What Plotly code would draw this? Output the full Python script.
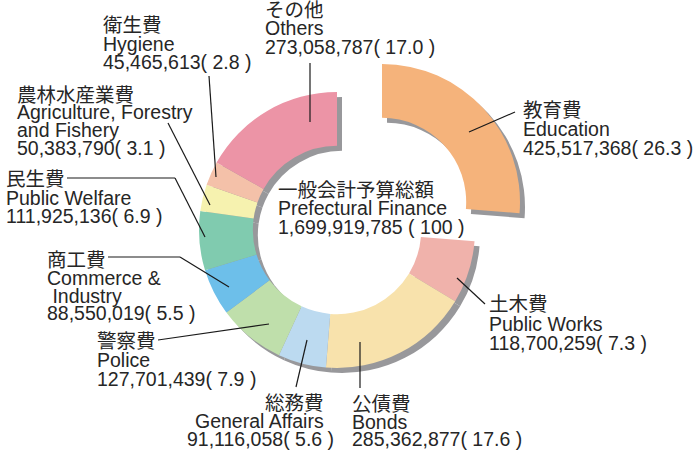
import plotly.graph_objects as go

# ---- data ----
labels_ja = ["教育費", "土木費", "公債費", "総務費", "警察費", "商工費", "民生費", "農林水産業費", "衛生費", "その他"]
labels_en = ["Education", "Public Works", "Bonds", "General Affairs", "Police",
             "Commerce &|\u00a0Industry", "Public Welfare", "Agriculture, Forestry|and Fishery",
             "Hygiene", "Others"]
amounts = [425517368, 118700259, 285362877, 91116058, 127701439,
           88550019, 111925136, 50383790, 45465613, 273058787]
shares = [26.3, 7.3, 17.6, 5.6, 7.9, 5.5, 6.9, 3.1, 2.8, 17.0]
total_ja = "一般会計予算総額"
total_en = "Prefectural Finance"
total_amount = 1699919785
total_share = 100

colors = ["#F5B37B", "#F0B2AB", "#F8E2AC", "#BCDAF0", "#BFDFAB",
          "#6DBFEA", "#80CBAF", "#F6F2AF", "#F4C1A9", "#EC94A6"]
SHADOW = "#98989B"
TXT = "#262626"
FONT = "Liberation Sans, Arial, Noto Sans CJK JP"

W, H = 699, 454
CX, CY, R = 337, 230, 138
HOLE = 0.61
PULL_DX, PULL_DY = 45, -28
SH = 5


def dom(cx, cy, r):
    return dict(x=[(cx - r) / W, (cx + r) / W], y=[1 - (cy + r) / H, 1 - (cy - r) / H])


fig = go.Figure()

# main ring (education transparent) + shadow
main_cols = ["rgba(0,0,0,0)"] + colors[1:]
sh_cols = ["rgba(0,0,0,0)"] + [SHADOW] * (len(amounts) - 1)
edu_rest = [amounts[0], sum(amounts[1:])]

common = dict(sort=False, direction="clockwise", rotation=0, hole=HOLE,
              textinfo="none", hoverinfo="skip", showlegend=False)

fig.add_trace(go.Pie(values=amounts, marker=dict(colors=sh_cols, line=dict(width=0)),
                     domain=dom(CX + SH, CY + SH, R), **common))
fig.add_trace(go.Pie(values=edu_rest, marker=dict(colors=[SHADOW, "rgba(0,0,0,0)"], line=dict(width=0)),
                     domain=dom(CX + PULL_DX + SH, CY + PULL_DY + SH, R), **common))
fig.add_trace(go.Pie(values=amounts, marker=dict(colors=main_cols, line=dict(width=0)),
                     domain=dom(CX, CY, R), **common))
fig.add_trace(go.Pie(values=edu_rest, marker=dict(colors=[colors[0], "rgba(0,0,0,0)"], line=dict(width=0)),
                     domain=dom(CX + PULL_DX, CY + PULL_DY, R), **common))

# ---- label layout (pixel positions) ----
# (x, first y, step, anchor)
label_pos = [
    (523, 110, 19, "left"),
    (489, 304, 19.5, "left"),
    (352, 404, 17.5, "left"),
    None,  # general affairs (special)
    (97, 341, 19, "left"),
    (47, 260, 17.8, "left"),
    (6, 179, 18.5, "left"),
    (17, 95, 17.5, "left"),
    (103, 25, 18.5, "left"),
    (265, 10, 18.5, "left"),
]

leaders = [
    [(469, 132), (515, 112)],
    [(457, 278), (485, 304)],
    [(360, 342), (360, 388)],
    [(307, 340), (296, 387)],
    [(269, 324), (158, 340)],
    [(229, 287), (180, 257), (108, 257)],
    [(205, 237), (175, 178), (67, 178)],
    [(210, 205), (168, 123)],
    [(216, 177), (209, 76)],
    [(310, 122), (310, 63)],
]

annots = []


def add_text(text, x, y, anchor="left"):
    annots.append(dict(text=text, x=x / W, y=1 - y / H, xref="paper", yref="paper",
                       xanchor=anchor, yanchor="middle", showarrow=False,
                       font=dict(family=FONT, size=19.5, color=TXT), borderpad=0))


for i in range(len(amounts)):
    num = f"{amounts[i]:,}( {shares[i]} )"
    lines = [labels_ja[i]] + labels_en[i].split("|") + [num]
    if label_pos[i] is None:
        add_text(lines[0], 325, 403, "right")
        add_text(lines[1], 325, 421, "right")
        add_text(lines[2], 186, 439, "left")
        continue
    x, y0, step, anc = label_pos[i]
    for k, t in enumerate(lines):
        add_text(t, x - 1, y0 + k * step, anc)

for k, t in enumerate([total_ja, total_en, f"{total_amount:,} ( {total_share} )"]):
    add_text(t, 277, 190 + k * 18.5)

shapes = []
for pts in leaders:
    for a, b in zip(pts[:-1], pts[1:]):
        shapes.append(dict(type="line", xref="paper", yref="paper",
                           x0=a[0] / W, y0=1 - a[1] / H, x1=b[0] / W, y1=1 - b[1] / H,
                           line=dict(color="#1a1a1a", width=1.2)))

fig.update_layout(width=W, height=H, margin=dict(l=0, r=0, t=0, b=0),
                  paper_bgcolor="white", plot_bgcolor="white",
                  annotations=annots, shapes=shapes)

fig.write_html("out.html", config={"displayModeBar": False},
               post_script="document.body.style.margin='0';document.body.style.overflow='hidden';")
